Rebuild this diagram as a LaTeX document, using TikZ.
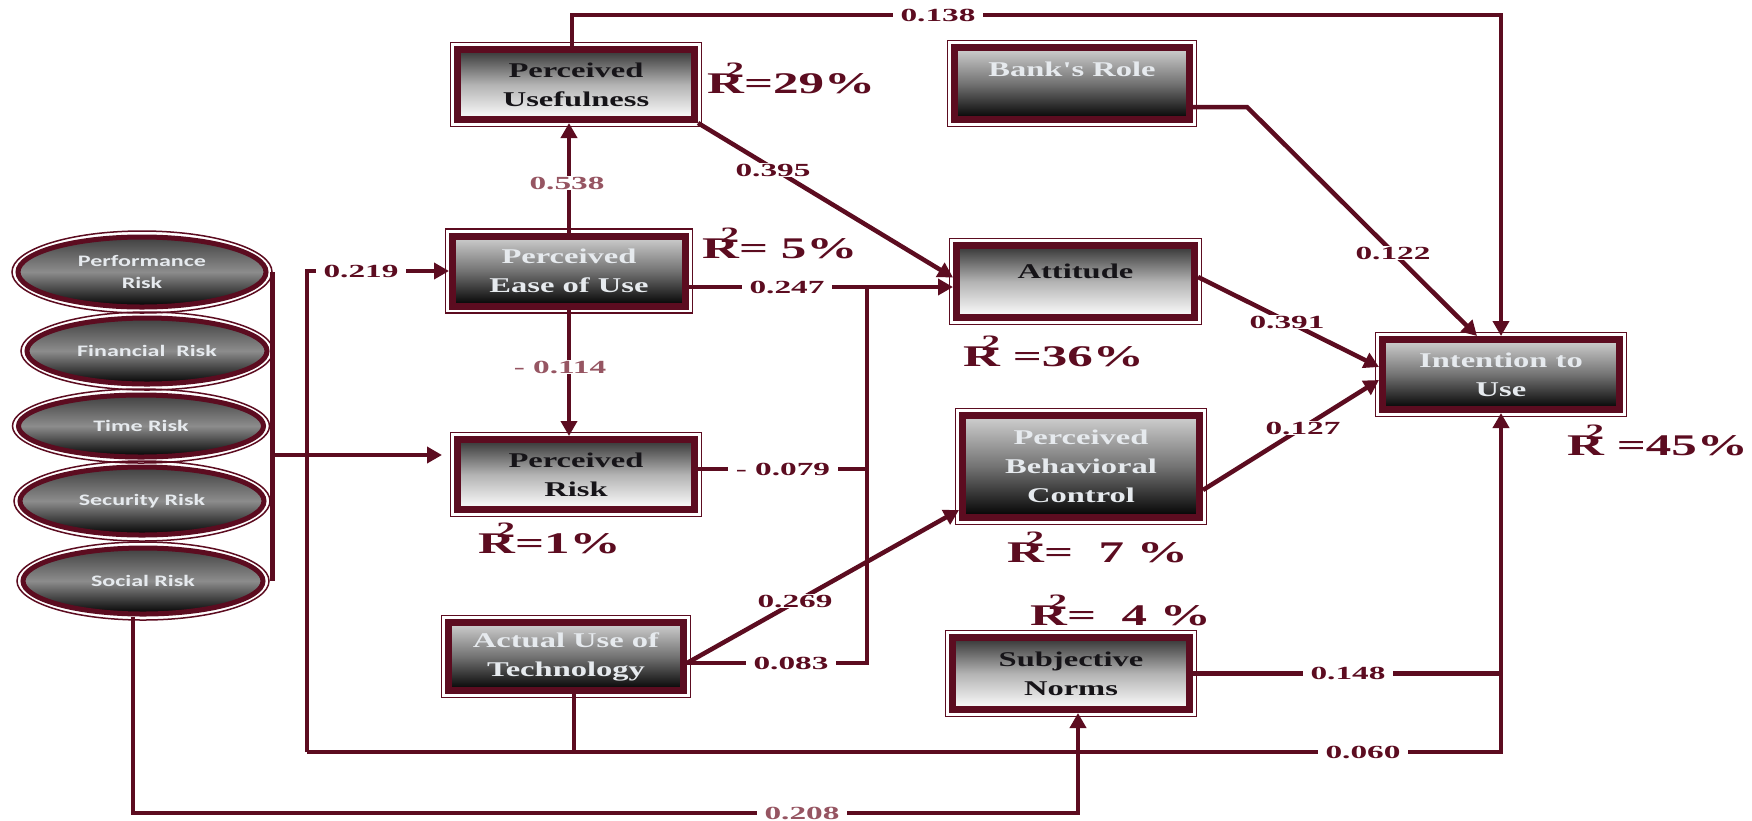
\documentclass[tikz,border=0pt]{standalone}
\usepackage{fontspec}
\usetikzlibrary{arrows.meta,shapes.geometric}
\newfontfamily\serifwide[FakeStretch=1.55]{Liberation Serif}
\newfontfamily\numwide[FakeStretch=1.8]{Liberation Serif}
\newfontfamily\rwide[FakeStretch=1.7]{Liberation Serif}
\newfontfamily\sanswide[FakeStretch=1.5]{Carlito}
\definecolor{maroon}{RGB}{92,12,32}
\definecolor{rose}{RGB}{150,85,98}
\definecolor{paletext}{RGB}{230,234,238}
\definecolor{inktext}{RGB}{22,20,24}
% R with a 2 set over its right half, followed by the value
\newcommand\rsq[1]{R\llap{\raisebox{16pt}{\fontsize{22}{22}\selectfont 2}}#1}
\begin{document}
\begin{tikzpicture}[x=1pt,y=-1pt,
  box/.style={rectangle, draw=maroon, line width=7pt, align=center, inner sep=2pt,
    font=\serifwide\bfseries\fontsize{21}{29}\selectfont},
  lightbox/.style={box, top color=black!80, bottom color=white, middle color=black!30, text=inktext},
  darkbox/.style={box, top color=black!18, bottom color=black, middle color=black!55, text=paletext},
  risk/.style={ellipse, draw=maroon, line width=5pt, top color=black!75, bottom color=black,
    middle color=black!45, text=paletext, align=center, inner sep=0pt,
    font=\sanswide\bfseries\fontsize{16}{22}\selectfont},
  frame/.style={draw=maroon, line width=1.5pt},
  conn/.style={draw=maroon, line width=4.5pt},
  arr/.style={conn, -{Triangle[length=15pt,width=16pt]}},
  wt/.style={fill=white, inner xsep=8pt, inner ysep=1pt, text=maroon,
    font=\numwide\bfseries\fontsize{18.5}{20}\selectfont},
  wtf/.style={wt, text=rose},
  rlab/.style={anchor=base west, inner sep=0pt, text=maroon,
    font=\rwide\bfseries\fontsize{30}{32}\selectfont}]

\fill[white] (0,0) rectangle (1752,820);
\useasboundingbox (0,0) rectangle (1752,820);

% ---- risk dimensions ----
\node[risk, minimum width=248pt, minimum height=70pt] (perf) at (142,272) {Performance\\Risk};
\node[risk, minimum width=240pt, minimum height=66pt] (fin) at (147,351) {Financial\ \ Risk};
\node[risk, minimum width=245pt, minimum height=62pt] (time) at (141,426) {Time Risk};
\node[risk, minimum width=244pt, minimum height=68pt] (sec) at (142,501) {Security Risk};
\node[risk, minimum width=240pt, minimum height=66pt] (soc) at (143,581) {Social Risk};
\foreach \n/\a/\b in {perf/130/41, fin/126/39, time/128.5/37, sec/128/40, soc/126/39}
  \draw[frame] (\n.center) ellipse [x radius=\a pt, y radius=\b pt];

% ---- constructs ----
\node[lightbox, minimum width=237pt, minimum height=70pt] (pu) at (576,84.5) {Perceived\\Usefulness};
\node[darkbox, minimum width=233pt, minimum height=70pt] (peou) at (569,271) {Perceived\\Ease of Use};
\node[lightbox, minimum width=237pt, minimum height=70pt] (pr) at (576,474.5) {Perceived\\Risk};
\node[darkbox, minimum width=235pt, minimum height=68pt] (aut) at (566,656.5) {Actual Use of\\Technology};
\node[darkbox, minimum width=235pt, minimum height=72pt] (br) at (1072,83.5) {Bank's Role\\\phantom{X}};
\node[lightbox, minimum width=238pt, minimum height=72pt] (att) at (1075.5,281.5) {Attitude\\[-9pt]\phantom{X}};
\node[darkbox, minimum width=237pt, minimum height=102pt] (pbc) at (1081,466.5) {Perceived\\Behavioral\\Control};
\node[lightbox, minimum width=237pt, minimum height=72pt] (sn) at (1071,673.5) {Subjective\\Norms};
\node[darkbox, minimum width=237pt, minimum height=70pt] (itu) at (1501,374.5) {Intention to\\Use};
\foreach \n in {pu,peou,pr,aut,br,att,pbc,sn,itu}
  \draw[frame] ([xshift=-3.5pt,yshift=3.5pt]\n.north west) rectangle ([xshift=3.5pt,yshift=-3.5pt]\n.south east);

% ---- helper levels ----
\coordinate (ytop) at (0,15);
\coordinate (y107) at (0,107);
\coordinate (bj) at (1247,107);
\coordinate (bt) at (867,287);
\coordinate (bb) at (867,663);
\coordinate (y469) at (0,469);
\coordinate (y510) at (0,510);
\coordinate (y277) at (0,277);
\coordinate (y367) at (0,367);
\coordinate (y490) at (0,490);
\coordinate (y380) at (0,380);
\coordinate (y455) at (0,455);
\coordinate (bk) at (307,752);
\coordinate (ybt) at (0,813);

% ---- paths ----
\draw[arr] ([xshift=-4pt]pu.north) |- (itu.north |- ytop) -- (itu.north);
\draw[arr] (br.east |- y107) -- (bj) -- ([xshift=-24pt]itu.north);
\draw[arr] (pu.south east) -- ([yshift=4pt]att.west);
\draw[arr] (peou.north) -- (peou.north |- pu.south);
\draw[arr] (peou.south) -- (peou.south |- pr.north);
\draw[arr] (peou.east |- bt) -- (bt) -- (att.west |- bt);
\draw[conn] (aut.east |- bb) -- (bb) -- (bt);
\draw[conn] (pr.east |- y469) -- (bt |- y469);
\draw[arr] (aut.east |- bb) -- (pbc.west |- y510);
\draw[arr] (att.east |- y277) -- (itu.west |- y367);
\draw[arr] (pbc.east |- y490) -- (itu.west |- y380);
\draw[conn] (sn.east) -- (sn.east -| itu.south);
\draw[conn] ([xshift=4pt]perf.east) -- ([xshift=4pt]perf.east |- soc.east);
\draw[arr] ([xshift=4pt]perf.east |- y455) -- ([xshift=-12pt]pr.west |- y455);
\draw[arr] (bk) |- (peou.west);
\draw[arr] (bk) -| (itu.south);
\draw[conn] ([xshift=8pt]aut.south) -- ([xshift=8pt]aut.south |- bk);
\draw[arr] ([xshift=-10pt]soc.south) |- ([xshift=7pt]sn.south |- ybt) -- ([xshift=7pt]sn.south);

% ---- path coefficients ----
\node[wt] (l219) at (361,271) {0.219};
\node[wtf] (l538) at (567,183) {0.538};
\node[wtf] (l114) at (560,367) {- 0.114};
\node[wt] (l395) at (773,170) {0.395};
\node[wt] (l247) at (787,287) {0.247};
\node[wt] (l079) at (783,469) {- 0.079};
\node[wt] (l269) at (795,601) {0.269};
\node[wt] (l083) at (791,663) {0.083};
\node[wt] (l138) at (938,15) {0.138};
\node[wt] (l122) at (1393,253) {0.122};
\node[wt] (l391) at (1287,322) {0.391};
\node[wt] (l127) at (1303,428) {0.127};
\node[wt] (l148) at (1348,673) {0.148};
\node[wt] (l060) at (1363,752) {0.060};
\node[wtf] (l208) at (802,813) {0.208};

% ---- explained variance ----
\node[rlab] (r29) at (707,93) {\rsq{=29\%}};
\node[rlab] (r5) at (702,258) {\rsq{= 5\%}};
\node[rlab] (r1) at (478,553) {\rsq{=1\%}};
\node[rlab] (r36) at (963,366) {\rsq{\ =36\%}};
\node[rlab] (r7) at (1007,562) {\rsq{=\ \ 7\ \%}};
\node[rlab] (r4) at (1030,625) {\rsq{=\ \ 4\ \%}};
\node[rlab] (r45) at (1567,455) {\rsq{\ =45\%}};
\end{tikzpicture}
\end{document}
